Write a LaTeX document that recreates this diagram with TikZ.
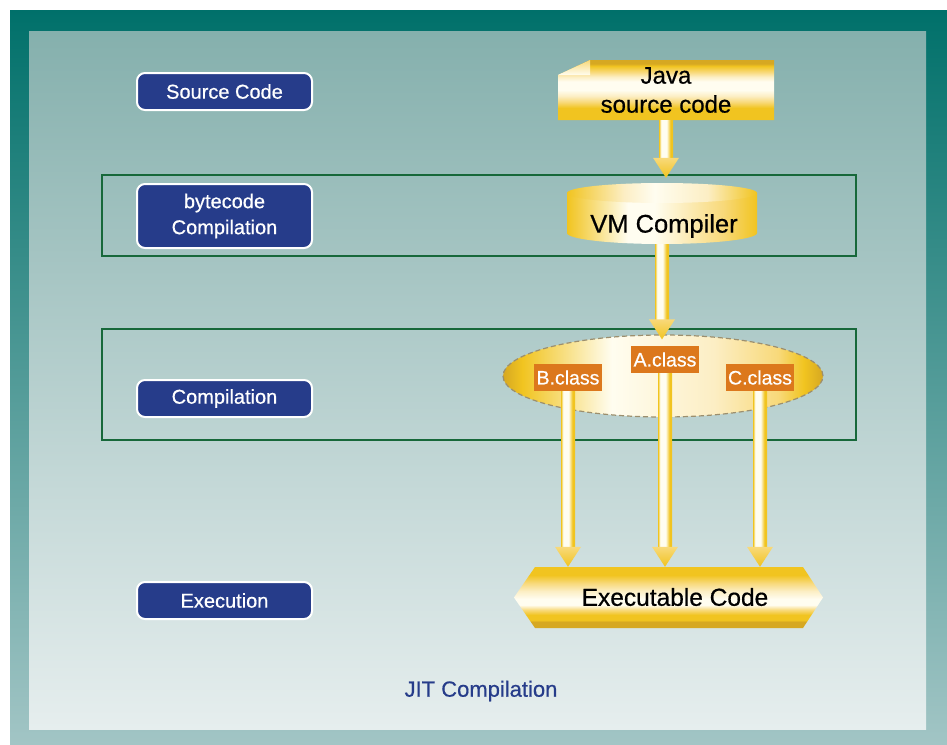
\documentclass[tikz,border=0pt]{standalone}
\usepackage{fontspec}
\setmainfont{Liberation Sans}
\newfontfamily\medfont{Liberation Sans}[UprightFeatures={FakeBold=0.6}]
\usetikzlibrary{calc,shapes.geometric}

% palette
\definecolor{gold}{HTML}{F1C420}
\definecolor{darkgold}{HTML}{D6A822}
\definecolor{lightgold}{HTML}{F8D97A}
\definecolor{palegold}{HTML}{FCEEC4}
\definecolor{creamy}{HTML}{FFFDF0}
\definecolor{btnblue}{HTML}{263C8A}
\definecolor{bandgreen}{HTML}{17683A}
\definecolor{classorange}{HTML}{DC781C}
\definecolor{dashgrey}{HTML}{9C8F6E}
\definecolor{frametop}{HTML}{00706A}
\definecolor{framebot}{HTML}{A2C5C5}
\definecolor{paneltop}{HTML}{85B0AD}
\definecolor{panelbot}{HTML}{E6EEEE}

% striped golden fills
\pgfdeclareverticalshading{javastripes}{100bp}{color(0bp)=(gold); color(35bp)=(gold); color(40bp)=(lightgold); color(45bp)=(palegold); color(50bp)=(creamy); color(57bp)=(creamy); color(61bp)=(palegold); color(65bp)=(lightgold); color(70bp)=(gold); color(72bp)=(darkgold); color(100bp)=(darkgold)}
\pgfdeclareverticalshading{execstripes}{100bp}{color(0bp)=(darkgold); color(30bp)=(darkgold); color(31.6bp)=(gold); color(35.7bp)=(gold); color(39.8bp)=(lightgold); color(43.9bp)=(creamy); color(48.8bp)=(creamy); color(55.3bp)=(palegold); color(61.9bp)=(lightgold); color(68.4bp)=(gold); color(100bp)=(gold)}
\pgfdeclarehorizontalshading{shaftshade}{100bp}{color(0bp)=(gold); color(25bp)=(gold); color(33bp)=(creamy); color(52bp)=(creamy); color(66bp)=(gold); color(100bp)=(gold)}
\pgfdeclarehorizontalshading{ovalshade}{100bp}{color(0bp)=(darkgold); color(25bp)=(darkgold); color(28bp)=(gold); color(42bp)=(creamy); color(58bp)=(palegold); color(68bp)=(lightgold); color(72bp)=(gold); color(75bp)=(darkgold); color(100bp)=(darkgold)}
\pgfdeclarehorizontalshading{cylshade}{100bp}{color(0bp)=(gold); color(25bp)=(gold); color(41bp)=(creamy); color(48bp)=(creamy); color(66bp)=(lightgold); color(75bp)=(gold); color(100bp)=(gold)}
\pgfdeclarehorizontalshading{cyltop}{100bp}{color(0bp)=(gold); color(25bp)=(gold); color(40bp)=(palegold); color(48bp)=(creamy); color(62bp)=(palegold); color(75bp)=(gold); color(100bp)=(gold)}

% golden arrow: #1 start, #2 tip (same x)
\newcommand\goldarrow[2]{%
  \path[shading=shaftshade] ($(#1)+(-7,0)$) rectangle ($(#2)+(7,-19)$);
  \path[top color=lightgold, bottom color=gold] ($(#2)+(-13,-20)$) -- ($(#2)+(13,-20)$) -- (#2) -- cycle;
}

\tikzset{
  btn/.style={draw=white, line width=2pt, fill=btnblue, rounded corners=8pt,
    minimum width=175pt, text=white, font=\medfont\fontsize{20}{26}\selectfont,
    align=center, inner sep=0pt},
  band/.style={draw=bandgreen, line width=2.2pt, minimum width=754pt, inner sep=0pt},
  bigtext/.style={font=\medfont\fontsize{24}{29}\selectfont, text=black, align=center, inner sep=0pt},
  classbox/.style={fill=classorange, text=white, font=\medfont\fontsize{19.5}{22}\selectfont,
    minimum width=68pt, minimum height=27pt, inner sep=0pt},
  ghost/.style={inner sep=0pt}
}

\begin{document}
\begin{tikzpicture}[x=1pt,y=-1pt]
\useasboundingbox (0,0) rectangle (947,744);

% frame and panel
\fill[white] (0,0) rectangle (947,744);
\shade[top color=frametop, bottom color=framebot] (10,10) rectangle (947,744);
\shade[top color=paneltop, bottom color=panelbot] (29,31) rectangle (926,729);

% stage bands
\node[band, minimum height=81pt] (bcband) at (479,215.5) {};
\node[band, minimum height=111pt] (cpband) at (479,384.5) {};

% stage buttons
\node[btn, minimum height=37pt] (srcbtn) at (224.5,91.5) {Source Code};
\node[btn, minimum height=64pt] (bcbtn) at (224.5,216) {bytecode\\Compilation};
\node[btn, minimum height=37pt] (cpbtn) at (224.5,398.5) {Compilation};
\node[btn, minimum height=37pt] (exbtn) at (224.5,600.5) {Execution};

% Java source document
\path[shading=javastripes] (558,75) -- (590,60) -- (774,60) -- (774,120) -- (558,120) -- cycle;
\shade[top color=lightgold, bottom color=creamy] (558,75) -- (590,60) -- (590,75) -- cycle;
\node[bigtext, minimum width=216pt, minimum height=60pt] (java) at (666,90) {Java\\source code};

% VM compiler cylinder
\path[shading=cylshade] (567,193) -- (567,233)
  arc[start angle=180, end angle=0, x radius=95, y radius=11] -- (757,193) -- cycle;
\path[shading=cyltop] (662,193) ellipse[x radius=95, y radius=10];
\node[ghost, minimum width=190pt, minimum height=61pt] (vm) at (662,213.5) {};
\node[bigtext, font=\medfont\fontsize{25.5}{30}\selectfont] (vmtext) at (664,226) {VM Compiler};

% class files oval
\node[ellipse, shade, shading=ovalshade, draw=dashgrey, line width=1.2pt,
  dash pattern=on 5pt off 3pt, minimum width=320pt, minimum height=82pt, inner sep=0pt]
  (oval) at (663,376) {};

% executable code
\path[shading=execstripes] (514,597.5) -- (535,567) -- (803,567) -- (823,597.5)
  -- (803,628) -- (535,628) -- cycle;
\node[ghost, minimum width=309pt, minimum height=61pt] (exec) at (668.5,597.5) {};
\node[bigtext, font=\medfont\fontsize{24.5}{29}\selectfont] (exectext) at (675,597) {Executable Code};

% class label positions
\coordinate (acpos) at (665,359.5);
\coordinate (bcpos) at (568,377.5);
\coordinate (ccpos) at (760,377.5);

% connectors
\coordinate (tipjava) at ($(java.south |- vm.north)+(0,-5)$);
\goldarrow{java.south}{tipjava}
\coordinate (tipvm) at ($(vm.south |- oval.north)+(0,5)$);
\goldarrow{vm.south}{tipvm}
\coordinate (tipb) at (bcpos |- exec.north);
\coordinate (tipa) at (acpos |- exec.north);
\coordinate (tipc) at (ccpos |- exec.north);
\goldarrow{bcpos}{tipb}
\goldarrow{acpos}{tipa}
\goldarrow{ccpos}{tipc}

\node[classbox] (acls) at (acpos) {A.class};
\node[classbox] (bcls) at (bcpos) {B.class};
\node[classbox] (ccls) at (ccpos) {C.class};

% caption
\node[font=\medfont\fontsize{22}{26}\selectfont, text=btnblue, inner sep=0pt] (caption) at (481,691) {JIT Compilation};
\end{tikzpicture}
\end{document}
